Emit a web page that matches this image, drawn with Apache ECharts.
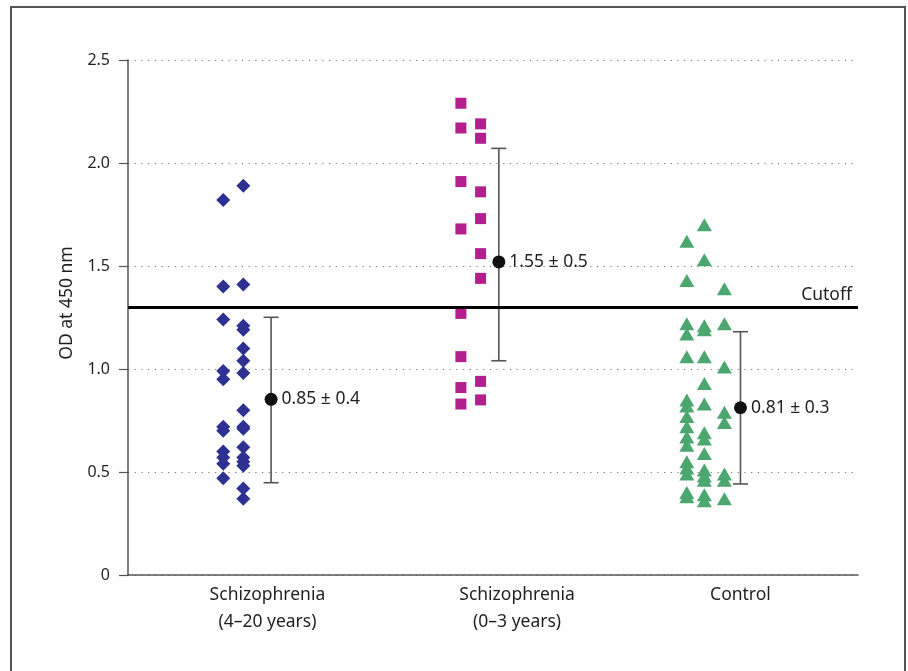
<!DOCTYPE html>
<html><head><meta charset="utf-8">
<script src="https://cdn.jsdelivr.net/npm/echarts@6/dist/echarts.min.js"></script>
<style>html,body{margin:0;padding:0;background:#fff}#c{width:908px;height:671px}</style>
</head><body><div id="c"></div>
<script>
// ---------- data ----------
const categories = ['Schizophrenia\n(4–20 years)', 'Schizophrenia\n(0–3 years)', 'Control'];
const yTickLabels = ['0', '0.5', '1.0', '1.5', '2.0', '2.5'];
const yAxisTitle = 'OD at 450 nm';

// Schizophrenia (4–20 years) – diamonds, two columns
const longCol1 = [1.82, 1.40, 1.24, 0.99, 0.95, 0.72, 0.70, 0.60, 0.57, 0.54, 0.47];
const longCol2 = [1.89, 1.41, 1.21, 1.19, 1.10, 1.04, 0.98, 0.80, 0.72, 0.71, 0.62, 0.57, 0.55, 0.53, 0.42, 0.37];
// Schizophrenia (0–3 years) – squares, two columns
const shortCol1 = [2.29, 2.17, 1.91, 1.68, 1.27, 1.06, 0.91, 0.83];
const shortCol2 = [2.19, 2.12, 1.86, 1.73, 1.56, 1.44, 0.94, 0.85];
// Control – triangles, three columns
const ctrlCol1 = [1.62, 1.43, 1.22, 1.17, 1.06, 0.85, 0.82, 0.77, 0.72, 0.67, 0.63, 0.55, 0.52, 0.49, 0.40, 0.38];
const ctrlCol2 = [1.70, 1.53, 1.21, 1.19, 1.06, 0.93, 0.83, 0.69, 0.66, 0.59, 0.51, 0.48, 0.46, 0.39, 0.36];
const ctrlCol3 = [1.39, 1.22, 1.01, 0.79, 0.74, 0.49, 0.46, 0.37];

const means = [0.853, 1.52, 0.812];
const lows = [0.448, 1.04, 0.442];
const highs = [1.251, 2.071, 1.181];
const meanLabels = ['0.85 ± 0.4', '1.55 ± 0.5', '0.81 ± 0.3'];
const cutoff = 1.305;
const cutoffLabel = 'Cutoff';

// ---------- layout (not data) ----------
const groupX = [19.6, 50.8, 83.9];          // position of mean/error bar per group
const labelX = [19.1, 53.3, 83.9];           // category label centers
const colOffsets = [[-6.55, -3.8], [-5.2, -2.5], [-7.35, -4.95, -2.2]];
const groups = [
  {cols: [longCol1, longCol2], symbol: 'diamond', size: 14, color: '#2e3192'},
  {cols: [shortCol1, shortCol2], symbol: 'rect', size: 11, color: '#b41f8d'},
  {cols: [ctrlCol1, ctrlCol2, ctrlCol3], symbol: 'triangle', size: [15, 13], color: '#4ca66f'}
];
const FONT = 'Noto Sans';
const TXT = '#231f20';

const series = [];
groups.forEach((g, gi) => {
  const data = [];
  g.cols.forEach((col, ci) => col.forEach(v => data.push([groupX[gi] + colOffsets[gi][ci], v])));
  series.push({
    type: 'scatter', data, symbol: g.symbol, symbolSize: g.size,
    itemStyle: {color: g.color, opacity: 1}, z: 3, silent: true
  });
});

series.push({
  type: 'custom', z: 4, silent: true,
  data: means.map((m, i) => [groupX[i], lows[i], highs[i]]),
  renderItem: (params, api) => {
    const x = api.value(0);
    const a = api.coord([x, api.value(1)]);
    const b = api.coord([x, api.value(2)]);
    const cap = 7.5;
    const st = {stroke: '#555', lineWidth: 1.6};
    return {type: 'group', children: [
      {type: 'line', shape: {x1: a[0], y1: a[1], x2: b[0], y2: b[1]}, style: st},
      {type: 'line', shape: {x1: a[0] - cap, y1: a[1], x2: a[0] + cap, y2: a[1]}, style: st},
      {type: 'line', shape: {x1: b[0] - cap, y1: b[1], x2: b[0] + cap, y2: b[1]}, style: st}
    ]};
  }
});

series.push({
  type: 'scatter', z: 5, silent: true,
  data: means.map((m, i) => ({value: [groupX[i], m], label: {formatter: meanLabels[i]}})),
  symbol: 'circle', symbolSize: 13,
  itemStyle: {color: '#111', opacity: 1},
  label: {show: true, position: 'right', distance: 4, color: TXT, fontFamily: FONT, fontSize: 17.5},
  markLine: {
    silent: true, symbol: 'none', animation: false,
    lineStyle: {color: '#000', width: 3, type: 'solid'},
    label: {show: true, position: 'insideEndTop', formatter: cutoffLabel, color: TXT, fontFamily: FONT, fontSize: 17.5, distance: [6, 3]},
    data: [{yAxis: cutoff}]
  }
});

const chart = echarts.init(document.getElementById('c'));
chart.setOption({
  animation: false,
  backgroundColor: '#fff',
  grid: {left: 128, right: 50, top: 60, bottom: 96, containLabel: false},
  xAxis: {
    type: 'value', min: 0, max: 100,
    axisLine: {show: true, onZero: false, lineStyle: {color: '#555', width: 1.5}},
    axisTick: {show: false},
    splitLine: {show: false},
    axisLabel: {
      customValues: labelX, margin: 7, color: TXT, fontFamily: FONT, fontSize: 17.5, lineHeight: 27,
      formatter: v => {
        let best = 0;
        labelX.forEach((p, i) => { if (Math.abs(p - v) < Math.abs(labelX[best] - v)) best = i; });
        return categories[best];
      }
    }
  },
  yAxis: {
    type: 'value', min: 0, max: 2.5, interval: 0.5,
    axisLine: {show: true, lineStyle: {color: '#555', width: 1.5}},
    axisTick: {show: true, length: 9, lineStyle: {color: '#555', width: 1.2}},
    axisLabel: {margin: 18, color: TXT, fontFamily: FONT, fontSize: 16,
      formatter: v => yTickLabels[Math.round(v / 0.5)]},
    splitLine: {show: true, lineStyle: {color: '#777', width: 1.2, type: [1.2, 5.5]}}
  },
  graphic: [
    {type: 'rect', silent: true, shape: {x: 11, y: 7, width: 894, height: 720},
      style: {fill: 'none', stroke: '#555', lineWidth: 2}},
    {type: 'text', silent: true, x: 67, y: 303, rotation: Math.PI / 2,
      style: {text: yAxisTitle, fill: TXT, font: '17.5px "Noto Sans"', align: 'center', verticalAlign: 'middle'}}
  ],
  series
});
</script></body></html>
